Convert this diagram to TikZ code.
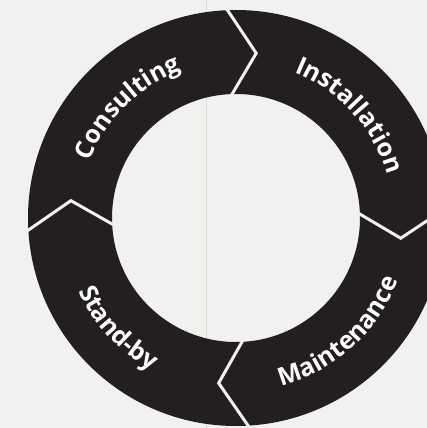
\documentclass[tikz,border=0pt]{standalone}
\usepackage{fontspec}
\setmainfont{Open Sans}
\usetikzlibrary{decorations.text}
\definecolor{ringblack}{HTML}{231F20}
\definecolor{paper}{HTML}{F1F1EF}
\definecolor{seam}{HTML}{DCDCD9}
\newcommand{\labelfont}{\fontsize{25}{25}\selectfont\bfseries\color{white}}
\tikzset{
  gap/.style={line width=3pt,draw=paper,line join=miter},
  cwlabel/.style={decorate,decoration={text along path,text align=center,text={|\labelfont|#1}}},
  ccwlabel/.style={decorate,decoration={text along path,text align=center,text={|\labelfont|#1}}}
}
\begin{document}
\begin{tikzpicture}[x=1pt,y=1pt]
 \fill[paper] (-236,-210) rectangle (191,218); %background
 \useasboundingbox (-236,-210) rectangle (191,218);
 \draw[seam,line width=1pt] (-29,-210)--(-29,218); %fold
 \fill[ringblack,even odd rule] (0,0) circle (208pt) (0,0) circle (124pt); %ring
 % chevron gaps between the four stages
 \foreach \a in {93,3,184,274}
  \draw[gap] (\a:120pt)--(\a-10:166pt)--(\a:212pt);
 % stage labels
 \path[cwlabel=Consulting] (175:157pt) arc[start angle=175,end angle=94,radius=157pt];
 \path[cwlabel=Installation] (84:157pt) arc[start angle=84,end angle=0,radius=157pt];
 \path[ccwlabel=Maintenance] (-90:174pt) arc[start angle=-90,end angle=-6,radius=174pt];
 \path[ccwlabel=Stand-by] (184:174pt) arc[start angle=184,end angle=262,radius=174pt];
\end{tikzpicture}
\end{document}
